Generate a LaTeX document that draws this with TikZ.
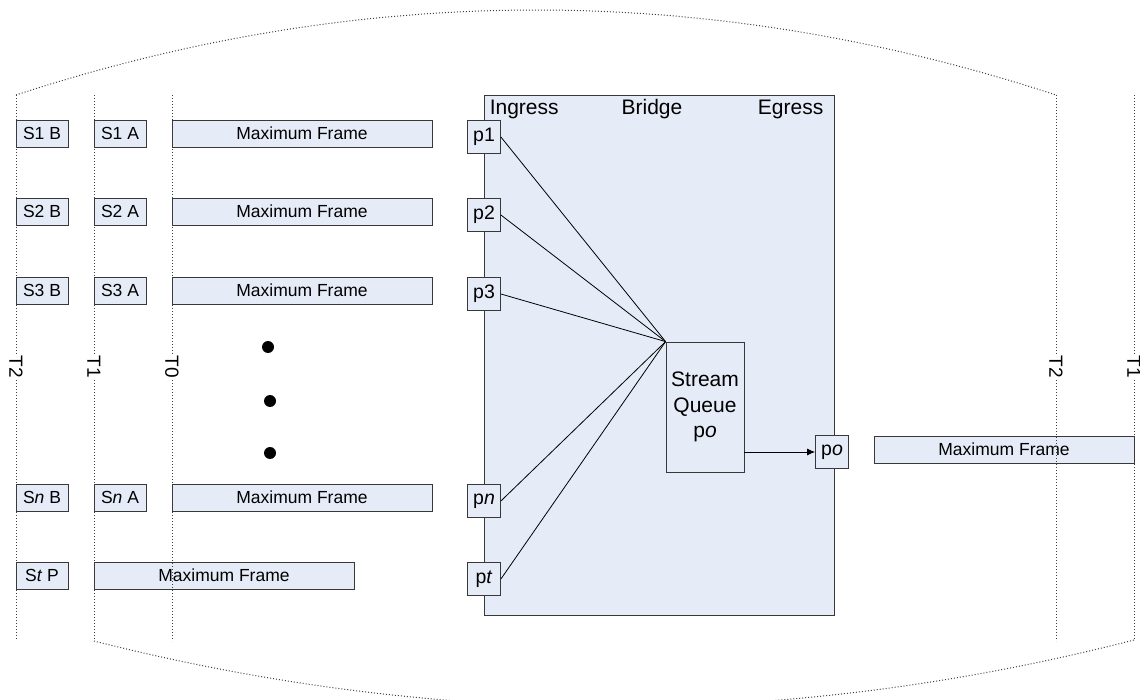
\documentclass[tikz,border=0pt]{standalone}
\usepackage{fontspec}
\setmainfont{Liberation Sans}
\usetikzlibrary{arrows.meta}
\definecolor{boxfill}{HTML}{E6ECF7}
\definecolor{boxline}{HTML}{383838}
\begin{document}
	\begin{tikzpicture}[x=1pt,y=-1pt]
		\useasboundingbox (0,0) rectangle (1140,700);
		% bridge
		\node (bridge)[draw=boxline, fill=boxfill, line width=0.9pt, minimum width=350pt, minimum height=520pt, inner sep=0pt] at (659,355) {};
		\begin{scope}[every node/.style={font=\fontsize{21}{25}\selectfont, inner sep=0pt}]
			\node (ingress)[anchor=north west] at ([xshift=6pt,yshift=-5pt]bridge.north west) {Ingress};
			\node (bname)[anchor=north] at ([xshift=-7pt,yshift=-5pt]bridge.north) {Bridge};
			\node (egress)[anchor=north east] at ([xshift=-11pt,yshift=-5pt]bridge.north east) {Egress};
		\end{scope}
		\node (sq)[draw=boxline, fill=boxfill, line width=0.8pt, minimum width=78pt, minimum height=130pt, align=center, font=\fontsize{21}{25.5}\selectfont] at (705,407) {Stream\\Queue\\p\textit{o}};

		% frames
		\begin{scope}[every node/.style={draw=boxline, fill=boxfill, line width=0.8pt, minimum height=27pt, inner sep=0pt, font=\fontsize{17.5}{20}\selectfont}]
			\node (s1b)[minimum width=52pt] at (42,133.5) {S1 B};
			\node (s2b)[minimum width=52pt] at (42,211.5) {S2 B};
			\node (s3b)[minimum width=52pt] at (42,290.5) {S3 B};
			\node (snb)[minimum width=52pt] at (42,497.5) {S\textit{n} B};
			\node (stp)[minimum width=52pt] at (42,575.5) {S\textit{t} P};
			\node (s1a)[minimum width=52pt] at (120,133.5) {S1 A};
			\node (s2a)[minimum width=52pt] at (120,211.5) {S2 A};
			\node (s3a)[minimum width=52pt] at (120,290.5) {S3 A};
			\node (sna)[minimum width=52pt] at (120,497.5) {S\textit{n} A};
			\node (f1)[minimum width=260pt] at (302,133.5) {Maximum Frame};
			\node (f2)[minimum width=260pt] at (302,211.5) {Maximum Frame};
			\node (f3)[minimum width=260pt] at (302,290.5) {Maximum Frame};
			\node (fn)[minimum width=260pt] at (302,497.5) {Maximum Frame};
			\node (ft)[minimum width=260pt] at (224,575.5) {Maximum Frame};
			\node (fo)[minimum width=260pt] at (1004,449.5) {Maximum Frame};
		\end{scope}

		% ports
		\begin{scope}[every node/.style={draw=boxline, fill=boxfill, line width=0.8pt, minimum size=33pt, inner sep=0pt, font=\fontsize{19.5}{22}\selectfont}]
			\node (p1) at (484,137) {p1};
			\node (p2) at (484,215) {p2};
			\node (p3) at (484,294) {p3};
			\node (pn) at (484,501) {p\textit{n}};
			\node (pt) at (484,579) {p\textit{t}};
			\node (po) at (832,452) {p\textit{o}};
		\end{scope}

		\fill (268,347) circle (6pt);
		\fill (270,401) circle (6pt);
		\fill (270,453) circle (6pt);

		\begin{scope}[every edge/.style={draw, line width=0.8pt}]
			\path [-] (p1.east) edge (sq.north west);
			\path [-] (p2.east) edge (sq.north west);
			\path [-] (p3.east) edge (sq.north west);
			\path [-] (pn.east) edge (sq.north west);
			\path [-] (pt.east) edge (sq.north west);
			\path [-{Latex[length=8pt,width=7pt]}] (po.west -| sq.east) edge (po.west);
		\end{scope}

		% time lines
		\begin{scope}[every path/.style={draw=black!75, dotted, line width=1pt}]
			\draw (16,95) -- (16,640);
			\draw (94,95) -- (94,641);
			\draw (172,95) -- (172,641);
			\draw (1056,95) -- (1056,641);
			\draw (1134,95) -- (1134,640);
			\draw (16,95) .. controls (362.7,-18.3) and (709.3,-18.3) .. (1056,95);
			\draw (94,641) .. controls (440.7,729) and (787.3,729) .. (1134,640);
		\end{scope}
		\begin{scope}[every node/.style={fill=white, rotate=-90, inner sep=1.5pt, font=\fontsize{19}{22}\selectfont}]
			\node (t2l) at (16,367) {T2};
			\node (t1l) at (94,367) {T1};
			\node (t0l) at (172,367) {T0};
			\node (t2r) at (1056,367) {T2};
			\node (t1r) at (1134,367) {T1};
		\end{scope}
	\end{tikzpicture}
\end{document}
